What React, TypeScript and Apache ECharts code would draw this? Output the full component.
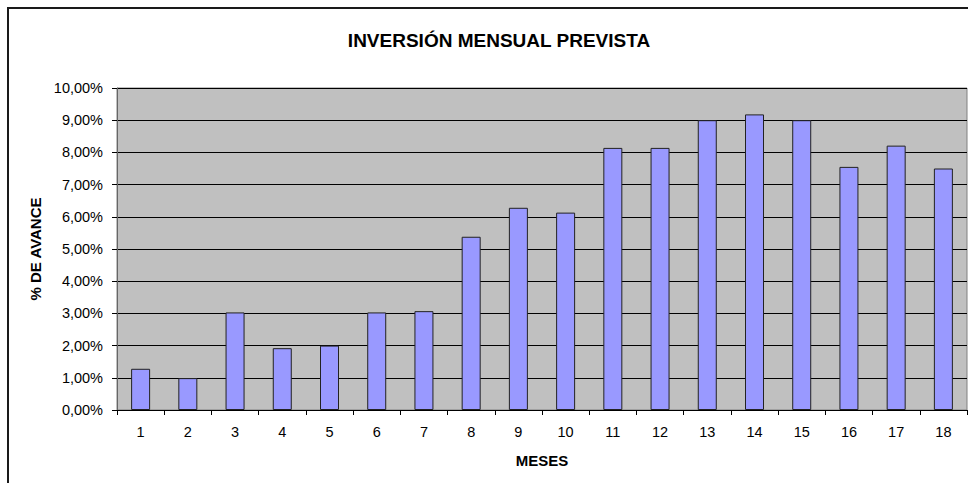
import React, { useEffect, useRef } from "react";
import * as echarts from "echarts";

const titleText = "INVERSIÓN MENSUAL PREVISTA";
const xAxisName = "MESES";
const yAxisName = "% DE AVANCE";
const months = ["1", "2", "3", "4", "5", "6", "7", "8", "9", "10", "11", "12", "13", "14", "15", "16", "17", "18"];
const avance = [1.28, 0.99, 3.03, 1.92, 2.0, 3.03, 3.07, 5.38, 6.28, 6.13, 8.14, 8.14, 9.0, 9.18, 9.0, 7.55, 8.21, 7.5];
const yMin = 0;
const yMax = 10;
const yInterval = 1;

const FONT = "'Liberation Sans', Arial, sans-serif";

export default function App() {
  const ref = useRef<HTMLDivElement>(null);
  useEffect(() => {
    if (!ref.current) return;
    const chart = echarts.init(ref.current, null, { renderer: "svg" });
    chart.setOption({
      animation: false,
      backgroundColor: "#ffffff",
      textStyle: { fontFamily: FONT, color: "#000" },
      title: {
        text: titleText,
        left: 494,
        textAlign: "center",
        top: 26,
        textStyle: { fontFamily: FONT, fontSize: 19, fontWeight: "bold", color: "#000" },
      },
      graphic: [
        {
          type: "rect",
          shape: { x: 8, y: 8, width: 980, height: 500 },
          style: { fill: "none", stroke: "#1a1a1a", lineWidth: 2 },
          silent: true,
          z: 100,
        },
      ],
      grid: {
        left: 117,
        right: 1,
        top: 88,
        bottom: 73,
        show: true,
        backgroundColor: "#C0C0C0",
        borderColor: "#808080",
        borderWidth: 1,
      },
      xAxis: {
        type: "category",
        data: months,
        name: xAxisName,
        nameLocation: "middle",
        nameGap: 43,
        nameTextStyle: { fontFamily: FONT, fontSize: 15, fontWeight: "bold", color: "#000" },
        axisLine: { show: true, lineStyle: { color: "#000", width: 1 } },
        axisTick: { show: true, length: 5, lineStyle: { color: "#000" } },
        axisLabel: { fontFamily: FONT, fontSize: 14.5, color: "#000", margin: 14 },
        splitLine: { show: false },
      },
      yAxis: {
        type: "value",
        min: yMin,
        max: yMax,
        interval: yInterval,
        name: yAxisName,
        nameLocation: "middle",
        nameGap: 58,
        nameTextStyle: { fontFamily: FONT, fontSize: 15, fontWeight: "bold", color: "#000" },
        axisLine: { show: true, lineStyle: { color: "#666", width: 1 } },
        axisTick: { show: true, length: 5, lineStyle: { color: "#000" } },
        axisLabel: {
          fontFamily: FONT,
          fontSize: 14.5,
          color: "#000",
          margin: 14,
          formatter: (v: number) => v.toFixed(2).replace(".", ",") + "%",
        },
        splitLine: { show: true, lineStyle: { color: "#000", width: 1 } },
      },
      series: [
        {
          type: "bar",
          data: avance,
          barWidth: 19,
          itemStyle: { color: "#9999FF", borderColor: "#222", borderWidth: 1 },
        },
      ],
    });
    return () => chart.dispose();
  }, []);
  return (
    <div
      ref={ref}
      style={{ position: "fixed", left: 0, top: 0, width: 968, height: 483 }}
    />
  );
}
